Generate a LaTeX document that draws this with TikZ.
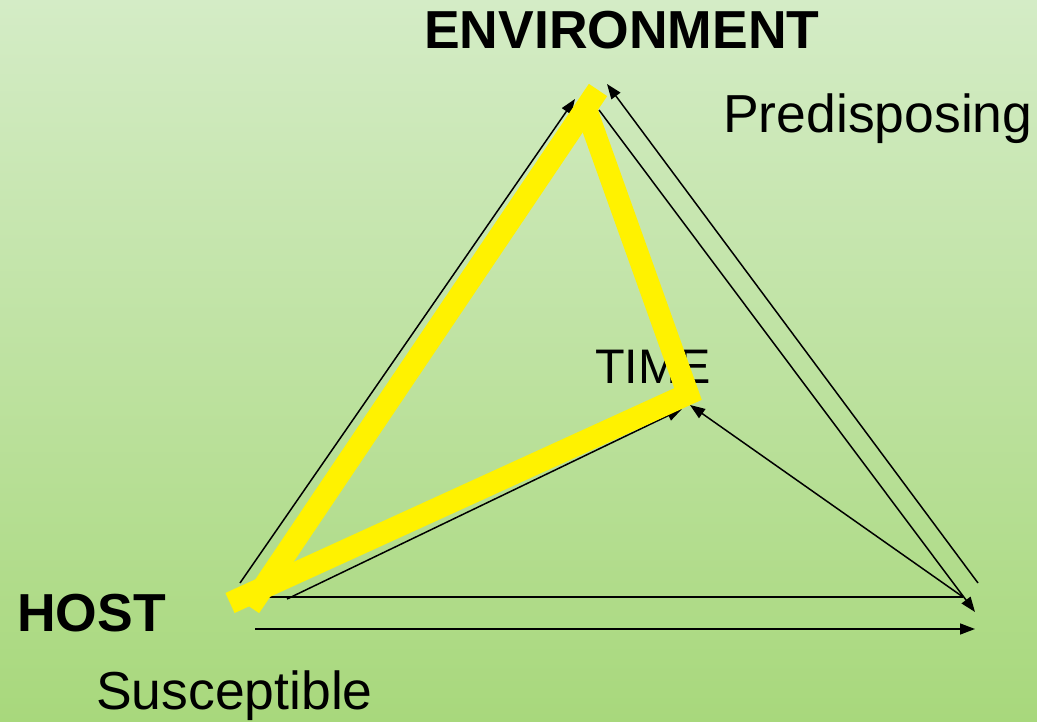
\documentclass[tikz,border=0pt]{standalone}
\usepackage{fontspec}
\setmainfont{Liberation Sans}
\usepackage{tikz}
\usetikzlibrary{arrows.meta}
\definecolor{bgtop}{RGB}{212,236,198}
\definecolor{bgbot}{RGB}{168,216,124}
\definecolor{hilite}{RGB}{255,242,0}

\begin{document}
\begin{tikzpicture}[x=1pt,y=-1pt,
  pointer/.style={line width=1.5pt,-{Triangle[length=15pt,width=11pt]}},
  bare/.style={line width=1.5pt},
  band/.style={draw=hilite,line width=22pt,line cap=butt,line join=miter},
  heading/.style={font=\fontsize{53.5}{60}\selectfont\bfseries,anchor=base west,inner sep=0pt},
  caption/.style={font=\fontsize{53.5}{60}\selectfont,anchor=base west,inner sep=0pt}]
\shade[top color=bgtop,bottom color=bgbot] (0,0) rectangle (1037,722);
\useasboundingbox (0,0) rectangle (1037,722);

\node[heading] (env) at (424,49) {ENVIRONMENT};
\node[caption] (pre) at (723,133) {Predisposing};
\node[caption,font=\fontsize{48.5}{56}\selectfont] (time) at (595,383) {TIME};
\node[heading] (host) at (17,631) {HOST};
\node[caption] (sus) at (96,709) {Susceptible};

\coordinate (hostA) at (240,583);
\coordinate (hostB) at (287,599);
\coordinate (hostC) at (255,597);
\coordinate (hostD) at (255,629);
\coordinate (envA) at (575,99);
\coordinate (envB) at (607,84);
\coordinate (envC) at (599,110);
\coordinate (timeA) at (682,409);
\coordinate (timeB) at (690,405);
\coordinate (agentA) at (978,583);
\coordinate (agentB) at (975,612);
\coordinate (agentC) at (963,597);
\coordinate (agentD) at (975,629);

\draw[pointer] (hostA) -- (envA);
\draw[pointer] (agentA) -- (envB);
\draw[pointer] (envC) -- (agentB);
\draw[pointer] (hostB) -- (timeA);
\draw[pointer] (agentC) -- (timeB);
\draw[bare] (hostC) -- (agentC);
\draw[pointer] (hostD) -- (agentD);

\coordinate (yh1) at (250,607);
\coordinate (yapex) at (598,90);
\coordinate (ystart) at (584.6,105);
\coordinate (ytime) at (688,394);
\coordinate (yh2) at (230,603);
\draw[band] (yh1) -- (yapex);
\draw[band] (ystart) -- (ytime) -- (yh2);
\end{tikzpicture}
\end{document}
